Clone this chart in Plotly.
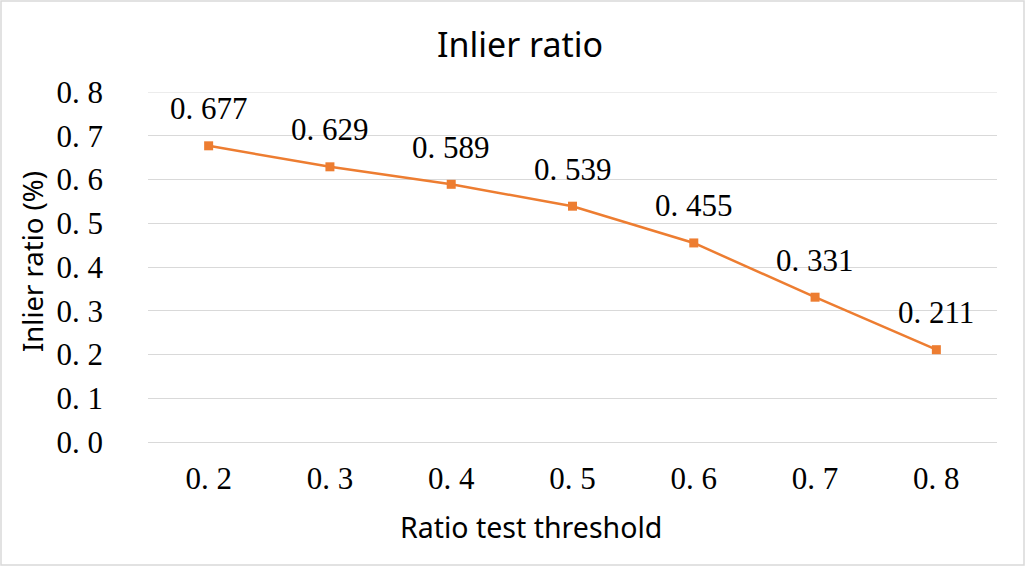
import plotly.graph_objects as go

thresholds = ["0.2", "0.3", "0.4", "0.5", "0.6", "0.7", "0.8"]
inlier_ratio = [0.677, 0.629, 0.589, 0.539, 0.455, 0.331, 0.211]
y_ticks = [0.0, 0.1, 0.2, 0.3, 0.4, 0.5, 0.6, 0.7, 0.8]

def spaced(s):
    # the reference shows a wide gap after the decimal point
    return s.replace(".", ". ")

ORANGE = "#ED7D31"
GRID = "#D9D9D9"
SERIF = "Liberation Serif, DejaVu Serif, serif"
SANS = "Noto Sans, Open Sans, sans-serif"
NUM = 31

fig = go.Figure()
fig.add_trace(go.Scatter(
    x=list(range(len(thresholds))), y=inlier_ratio, mode="lines+markers",
    line=dict(color=ORANGE, width=2.5),
    marker=dict(symbol="square", size=9, color=ORANGE),
    hoverinfo="y", showlegend=False,
))

for i, v in enumerate(inlier_ratio):
    fig.add_annotation(x=i, y=v, text=spaced(f"{v:.3f}"), showarrow=False,
                       yshift=37, font=dict(family=SERIF, size=NUM, color="#000000"))

L, R, T, B = 148, 28, 92, 124
W, H = 1025, 566
pw, ph = W - L - R, H - T - B

fig.add_annotation(text="Ratio test threshold", xref="paper", yref="paper",
                   x=(531 - L) / pw, y=-(527 - (T + ph)) / ph, showarrow=False,
                   xanchor="center", yanchor="middle",
                   font=dict(family=SANS, size=28.5, color="#000000"))
fig.add_annotation(text="Inlier ratio (%)", xref="paper", yref="paper",
                   x=(32 - L) / pw, y=1 - (262 - T) / ph, showarrow=False,
                   xanchor="center", yanchor="middle", textangle=-90,
                   font=dict(family=SANS, size=27.5, color="#000000"))

fig.update_layout(
    width=W, height=H,
    margin=dict(l=L, r=R, t=T, b=B),
    paper_bgcolor="white", plot_bgcolor="white",
    title=dict(text="Inlier ratio", xref="container", x=520 / W, xanchor="center",
               y=1 - 45 / H, yanchor="middle",
               font=dict(family=SANS, size=34, color="#000000")),
    xaxis=dict(
        tickmode="array", tickvals=list(range(len(thresholds))),
        ticktext=[spaced(t) for t in thresholds],
        range=[-0.5, len(thresholds) - 0.5],
        showgrid=False, showline=True, linecolor=GRID, linewidth=1, zeroline=False,
        ticks="", ticklabelstandoff=9,
        tickfont=dict(family=SERIF, size=NUM, color="#000000"),
    ),
    yaxis=dict(
        range=[0, 0.8], tickvals=y_ticks, ticktext=[spaced(f"{v:.1f}") for v in y_ticks],
        showgrid=True, gridcolor=GRID, gridwidth=1, zeroline=False,
        showline=False, ticks="", ticklabelstandoff=44,
        tickfont=dict(family=SERIF, size=NUM, color="#000000"),
    ),
)

# top gridline at 0.8 (edge of the range)
fig.add_shape(type="line", xref="paper", yref="y", x0=0, x1=1, y0=y_ticks[-1], y1=y_ticks[-1],
              line=dict(color=GRID, width=1), layer="below")

fig.add_shape(type="rect", xref="paper", yref="paper",
              x0=(-L + 1) / pw, x1=(pw + R - 1) / pw,
              y0=(-B + 1) / ph, y1=(ph + T - 1) / ph,
              line=dict(color=GRID, width=1.5), fillcolor="rgba(0,0,0,0)", layer="below")

fig.write_html("out.html", config={"displayModeBar": False},
               post_script="document.body.style.margin='0';document.body.style.overflow='hidden';")
